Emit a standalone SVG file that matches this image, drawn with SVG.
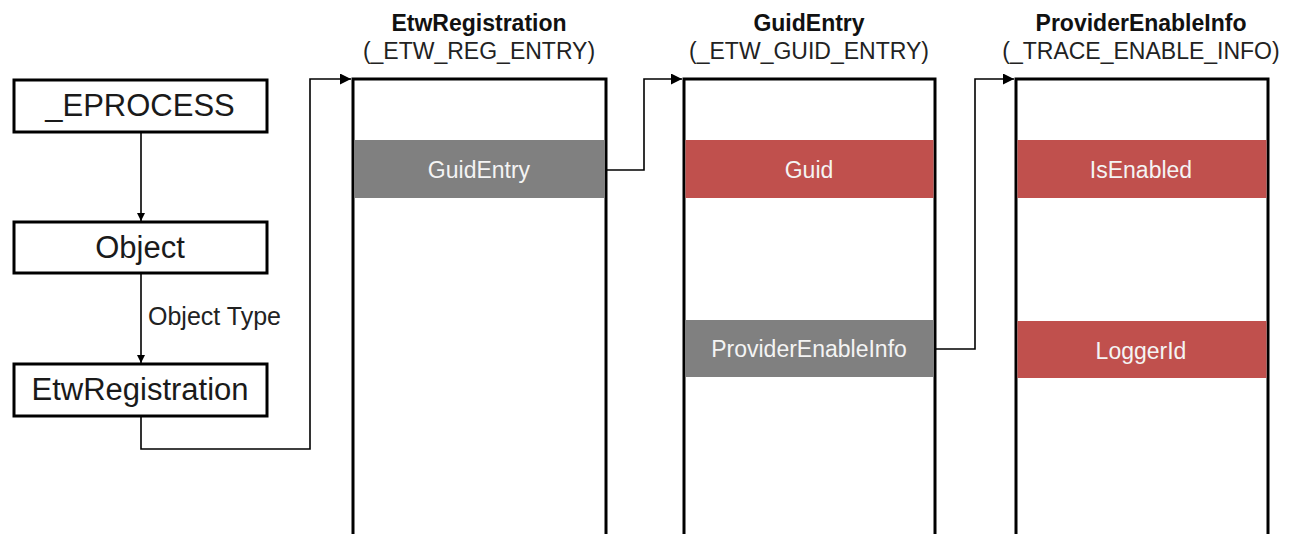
<svg xmlns="http://www.w3.org/2000/svg" width="1295" height="534" viewBox="0 0 1295 534">
  <defs>
    <marker id="arrow" viewBox="0 0 10 10" refX="10" refY="5" markerWidth="8" markerHeight="8" markerUnits="userSpaceOnUse" orient="auto">
      <path d="M0,0 L10,5 L0,10 z" fill="#000"/>
    </marker>
    <marker id="arrowH" viewBox="0 0 10 10" refX="10" refY="5" markerWidth="11" markerHeight="11" markerUnits="userSpaceOnUse" orient="auto">
      <path d="M0,0 L10,5 L0,10 z" fill="#000"/>
    </marker>
  </defs>
  <style>
    text { font-family: "Liberation Sans", Arial, sans-serif; }
    .box { fill: #fff; stroke: #000; stroke-width: 3; }
    .col { fill: #fff; stroke: #000; stroke-width: 3; }
    .boxtxt { font-size: 31px; fill: #1a1a1a; text-anchor: middle; }
    .title { font-size: 23px; font-weight: bold; fill: #111; text-anchor: middle; }
    .sub { font-size: 23px; fill: #222; text-anchor: middle; }
    .gray { fill: #808080; }
    .red { fill: #c0504d; }
    .fld { font-size: 23px; fill: #f4f4f4; text-anchor: middle; }
    .conn { fill: none; stroke: #000; stroke-width: 1.6; }
    .lbl { font-size: 25px; fill: #222; }
  </style>
  <rect width="1295" height="534" fill="#fff"/>

  <!-- object chain on the left -->
  <g id="eprocess">
    <rect class="box" x="14" y="80" width="253" height="52"/>
    <text class="boxtxt" x="140" y="116">_EPROCESS</text>
  </g>
  <g id="object">
    <rect class="box" x="14" y="222" width="253" height="51"/>
    <text class="boxtxt" x="140" y="258">Object</text>
  </g>
  <g id="etwregistration">
    <rect class="box" x="14" y="364" width="253" height="52"/>
    <text class="boxtxt" x="140" y="400">EtwRegistration</text>
  </g>

  <!-- structure columns -->
  <g id="etw-reg-entry">
    <text class="title" x="479" y="31">EtwRegistration</text>
    <text class="sub" x="479" y="59">(_ETW_REG_ENTRY)</text>
    <rect class="col" x="353" y="79" width="253" height="460"/>
    <rect class="gray" x="354.5" y="140" width="250" height="58"/>
    <text class="fld" x="479" y="178">GuidEntry</text>
  </g>
  <g id="etw-guid-entry">
    <text class="title" x="809" y="31">GuidEntry</text>
    <text class="sub" x="809" y="59">(_ETW_GUID_ENTRY)</text>
    <rect class="col" x="684" y="79" width="251" height="460"/>
    <rect class="red" x="685.5" y="140" width="248" height="58"/>
    <text class="fld" x="809" y="178">Guid</text>
    <rect class="gray" x="685.5" y="320" width="248" height="57"/>
    <text class="fld" x="809" y="357">ProviderEnableInfo</text>
  </g>
  <g id="trace-enable-info">
    <text class="title" x="1141" y="31">ProviderEnableInfo</text>
    <text class="sub" x="1141" y="59">(_TRACE_ENABLE_INFO)</text>
    <rect class="col" x="1016" y="79" width="252" height="460"/>
    <rect class="red" x="1017.5" y="140" width="249" height="58"/>
    <text class="fld" x="1141" y="178">IsEnabled</text>
    <rect class="red" x="1017.5" y="321" width="249" height="57"/>
    <text class="fld" x="1141" y="359">LoggerId</text>
  </g>

  <!-- connectors -->
  <g id="connectors">
    <path class="conn" d="M141,133 V221" marker-end="url(#arrow)"/>
    <path class="conn" d="M141,274 V363" marker-end="url(#arrow)"/>
    <text class="lbl" x="148" y="325">Object Type</text>
    <path class="conn" d="M141,417 V449 H310 V79 H351" marker-end="url(#arrowH)"/>
    <path class="conn" d="M606,170 H644 V79 H682" marker-end="url(#arrowH)"/>
    <path class="conn" d="M935,349 H975 V79 H1014" marker-end="url(#arrowH)"/>
  </g>
</svg>
